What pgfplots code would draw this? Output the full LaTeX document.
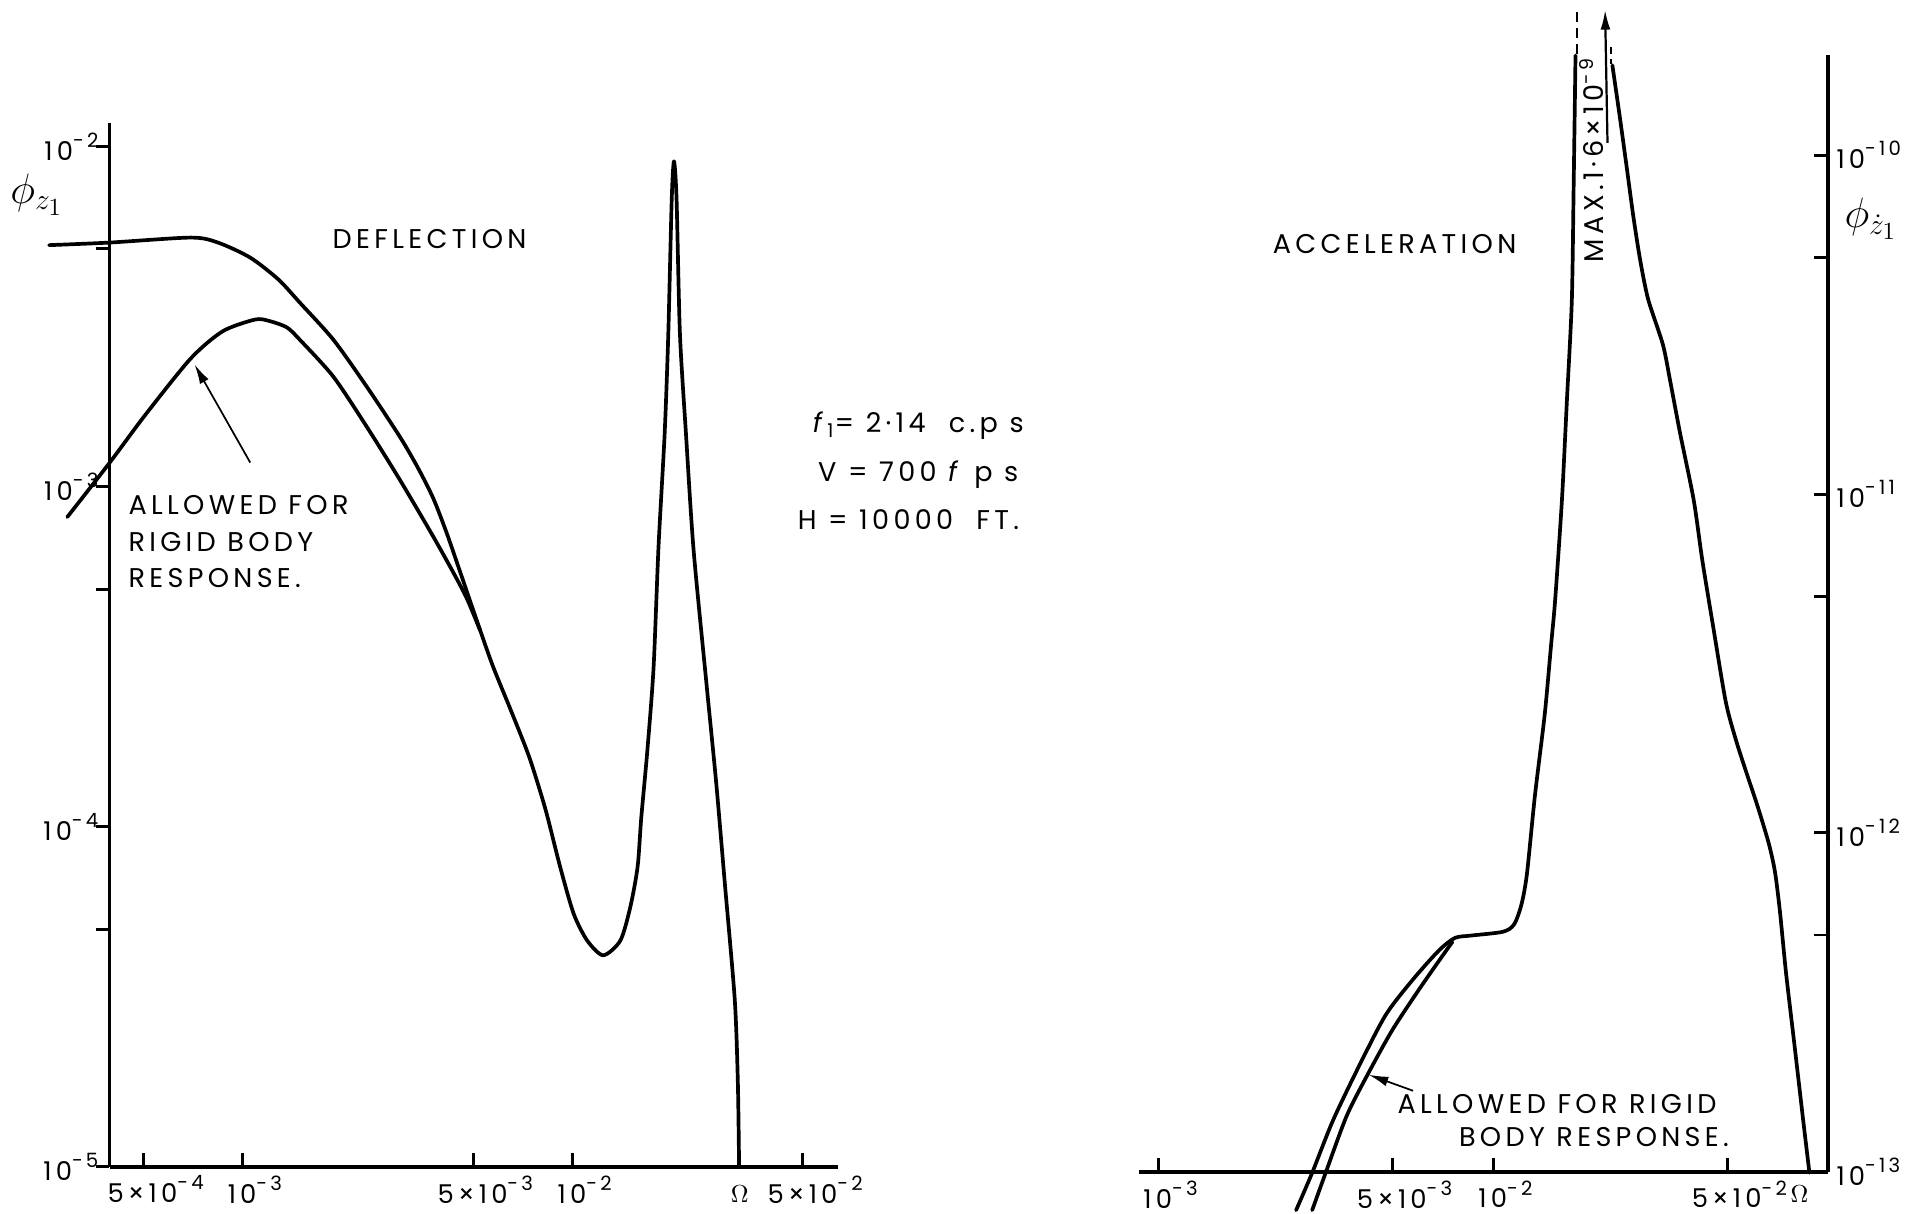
\documentclass[border=0pt]{standalone}
\usepackage{pgfplots}
\pgfplotsset{compat=1.18}
\usepackage{fontspec}
\setmainfont{Poppins}
\newfontfamily\hand[LetterSpace=16]{Poppins}
\usetikzlibrary{arrows.meta}
\newcommand{\spx}[1]{\raisebox{0.5em}{\fontsize{8}{8}\selectfont\hand #1}}
\newcommand{\tn}[1]{\mbox{\fontsize{10.5}{12}\selectfont\hand 10\spx{#1}}}
\newcommand{\ftn}[1]{\mbox{\fontsize{10.5}{12}\selectfont\hand 5×10\spx{#1}}}
\newcommand{\lab}{\fontsize{11}{13}\selectfont\hand}
\tikzset{handcurve/.style={line width=1.5pt, black, line join=round, line cap=round, smooth, tension=0.45}}
\begin{document}
\begin{tikzpicture}
\useasboundingbox (0,0) rectangle (784pt,-493pt);
% ---------------- Deflection ----------------
\begin{axis}[
  scale only axis, anchor=south west,
  at={(44.5pt,-474pt)}, width=296pt, height=424pt,
  xmode=log, ymode=log, clip=false,
  xmin=3.95e-4, xmax=6.40e-2, ymin=1e-5, ymax=1.172e-2,
  axis x line=bottom, axis y line=left,
  axis line style={-, line width=1.4pt, black},
  xminorticks=false, yminorticks=false,
  tick align=inside, major tick length=5.5pt,
  tick style={line width=1.2pt, black},
  xticklabel style={xshift=5pt},
  yticklabel style={xshift=-1pt},
  ytick style={xshift=-5.5pt},
  xtick={5e-4,1e-3,5e-3,1e-2,5e-2},
  xticklabels={\ftn{-4},\tn{-3},\ftn{-3},\tn{-2},\ftn{-2}},
  ytick={1e-5,5e-5,1e-4,5e-4,1e-3,5e-3,1e-2},
  yticklabels={\tn{-5},,\tn{-4},,\tn{-3},,\tn{-2}},
]
% response curve (upper), running on through the resonance peak
\addplot[handcurve] coordinates {
(2.59e-4,5.13e-3) (3.95e-4,5.22e-3) (6.97e-4,5.40e-3) (8.42e-4,5.22e-3)
(1.053e-3,4.72e-3) (1.283e-3,4.07e-3) (1.494e-3,3.47e-3) (1.886e-3,2.703e-3)
(2.379e-3,1.969e-3) (3.003e-3,1.399e-3) (3.417e-3,1.127e-3) (3.79e-3,9.22e-4)
(4.16e-3,7.30e-4) (4.575e-3,5.59e-4) (5.07e-3,4.18e-4) (5.72e-3,2.995e-4)
(6.51e-3,2.199e-4) (7.40e-3,1.603e-4) (8.28e-3,1.129e-4) (9.18e-3,7.63e-5)
(1.0085e-2,5.56e-5) (1.109e-2,4.63e-5) (1.240e-2,4.19e-5) (1.398e-2,4.63e-5)
(1.498e-2,5.80e-5) (1.577e-2,7.63e-5) (1.618e-2,1.065e-4) (1.689e-2,1.686e-4)
(1.763e-2,2.94e-4) (1.825e-2,6.66e-4) (1.905e-2,1.435e-3) (1.954e-2,2.82e-3)
(2.001e-2,6.99e-3) (2.033e-2,9.05e-3) (2.07e-2,6.99e-3) (2.119e-2,2.82e-3)
(2.21e-2,1.435e-3) (2.33e-2,6.55e-4) (2.55e-2,2.64e-4) (2.73e-2,1.346e-4)
(2.90e-2,6.80e-5) (3.108e-2,3.10e-5) (3.176e-2,1.761e-5) (3.203e-2,1e-5)
};
% allowed for rigid body response
\addplot[handcurve] coordinates {
(2.94e-4,8.14e-4) (3.95e-4,1.175e-3) (5.07e-4,1.626e-3) (6.97e-4,2.385e-3)
(8.71e-4,2.865e-3) (1.090e-3,3.10e-3) (1.198e-3,3.075e-3) (1.362e-3,2.94e-3)
(1.494e-3,2.699e-3) (1.886e-3,2.104e-3) (2.379e-3,1.501e-3) (3.003e-3,1.045e-3)
(3.79e-3,7.12e-4) (4.46e-3,5.36e-4) (4.82e-3,4.62e-4) (5.25e-3,3.78e-4)
};
\draw[line width=0.7pt, -{Latex[length=8pt,width=4pt]}] (axis cs:1.055e-3,1.177e-3) -- (axis cs:7.15e-4,2.288e-3);
\end{axis}
% ---------------- Acceleration ----------------
\begin{axis}[
  scale only axis, anchor=south west,
  at={(462.5pt,-476pt)}, width=280pt, height=453.5pt,
  xmode=log, ymode=log, clip=false,
  xmin=8.73e-4, xmax=0.1, ymin=1e-13, ymax=1.969e-10,
  axis x line=bottom, axis y line=right,
  axis line style={-, line width=1.4pt, black},
  xminorticks=false, yminorticks=false,
  tick align=inside, major tick length=5.5pt,
  tick style={line width=1.2pt, black},
  xticklabel style={xshift=5pt},
  xtick={1e-3,5e-3,1e-2,5e-2},
  xticklabels={\tn{-3},\ftn{-3},\tn{-2},\ftn{-2}},
  ytick={1e-13,5e-13,1e-12,5e-12,1e-11,5e-11,1e-10},
  yticklabels={\tn{-13},,\tn{-12},,\tn{-11},,\tn{-10}},
]
\addplot[handcurve] coordinates {
(2.58e-3,7.71e-14) (2.882e-3,9.94e-14) (3.327e-3,1.42e-13) (4.01e-3,2.086e-13)
(4.79e-3,2.915e-13) (5.77e-3,3.70e-13) (6.89e-3,4.50e-13) (7.69e-3,4.90e-13)
(8.59e-3,4.98e-13) (1.070e-2,5.11e-13) (1.155e-2,5.37e-13) (1.215e-2,6.14e-13)
(1.262e-2,7.56e-13) (1.334e-2,1.292e-12) (1.427e-2,2.243e-12) (1.489e-2,3.55e-12)
(1.533e-2,4.88e-12) (1.606e-2,9.61e-12) (1.662e-2,1.893e-11) (1.719e-2,3.73e-11)
(1.741e-2,8.18e-11) (1.763e-2,1.969e-10)
};
\addplot[handcurve] coordinates {
(2.272e-2,1.842e-10) (2.391e-2,1.296e-10) (2.505e-2,9.27e-11) (2.625e-2,6.58e-11)
(2.75e-2,4.91e-11) (2.905e-2,3.76e-11) (3.217e-2,2.757e-11) (3.384e-2,2.146e-11)
(3.62e-2,1.511e-11) (3.975e-2,9.61e-12) (4.217e-2,6.38e-12) (4.55e-2,4.03e-12)
(4.955e-2,2.439e-12) (5.30e-2,1.898e-12) (5.67e-2,1.540e-12) (6.17e-2,1.198e-12)
(6.66e-2,9.32e-13) (6.95e-2,7.69e-13) (7.19e-2,5.89e-13) (7.50e-2,3.875e-13)
(7.96e-2,2.345e-13) (8.44e-2,1.42e-13) (8.81e-2,9.94e-14)
};
% allowed for rigid body response
\addplot[handcurve] coordinates {
(2.882e-3,7.71e-14) (3.162e-3,9.94e-14) (3.652e-3,1.461e-13) (4.217e-3,1.935e-13)
(4.994e-3,2.615e-13) (5.97e-3,3.42e-13) (6.91e-3,4.21e-13) (7.56e-3,4.77e-13)
};
\draw[line width=0.7pt, -{Latex[length=8pt,width=4pt]}] (axis cs:5.77e-3,1.735e-13) -- (axis cs:4.25e-3,1.935e-13);
\draw[line width=0.8pt, dash pattern=on 4pt off 2.5pt] (axis cs:1.778e-2,2.64e-10) -- (axis cs:1.778e-2,1.952e-10);
\draw[line width=0.8pt, dash pattern=on 3pt off 2pt] (axis cs:2.254e-2,2.088e-10) -- (axis cs:2.254e-2,1.857e-10);
\draw[line width=0.9pt, -{Latex[length=8pt,width=4pt]}] (axis cs:2.197e-2,1.087e-10) -- (axis cs:2.161e-2,2.683e-10);
\end{axis}
% ---------------- annotations ----------------
\begin{scope}[x=0.5pt,y=-0.5pt, every node/.style={inner sep=0pt}]
\node[font=\lab] at (349,194) {DEFLECTION};
\node[anchor=west, align=left, font=\lab] at (104,440)
  {ALLOWED FOR\\[2pt]RIGID BODY\\[2pt]RESPONSE.};
\node[font=\lab] at (746,346) {\textit{f}\textsubscript{1}= 2·14\ \ c.p s};
\node[font=\lab] at (746,386) {V = 700 \textit{f} p s};
\node[font=\lab] at (738,422) {H = 10000\ \ FT.};
\node[font=\lab] at (1133,198) {ACCELERATION};
\node[font=\lab, rotate=90] at (1293,130) {MAX.1·6×10\textsuperscript{-9}};
\node[anchor=west, font=\lab] at (1135,897) {ALLOWED FOR RIGID};
\node[anchor=west, font=\lab] at (1185,924) {BODY RESPONSE.};
\node[font=\LARGE] at (30,158) {$\phi_{z_1}$};
\node[font=\LARGE] at (1520,178) {$\phi_{\dot{z}_1}$};
\node[font=\normalsize] at (601,970) {$\Omega$};
\node[font=\normalsize] at (1462,970) {$\Omega$};
\end{scope}
\end{tikzpicture}
\end{document}
